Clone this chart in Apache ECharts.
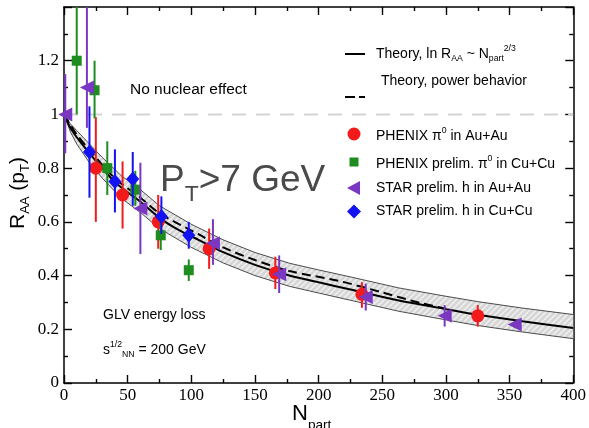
<!DOCTYPE html>
<html>
<head>
<meta charset="utf-8">
<script src="https://cdn.jsdelivr.net/npm/echarts@6/dist/echarts.min.js"></script>
<style>
  html, body { margin: 0; padding: 0; background: #fff; }
  #chart { width: 589px; height: 428px; }
</style>
</head>
<body>
<div id="chart"></div>
<script>
// ---- axis ranges ----
const xMin = 0, xMax = 400, xStep = 50;
const yMin = 0, yMax = 1.4, yStep = 0.2;

// ---- PHENIX pi0 in Au+Au ----
const phxAuN  = [25, 46, 74, 114, 166, 234, 325];
const phxAuR  = [0.80, 0.70, 0.60, 0.50, 0.41, 0.33, 0.25];
const phxAuHi = [0.99, 0.825, 0.70, 0.575, 0.47, 0.375, 0.29];
const phxAuLo = [0.60, 0.575, 0.50, 0.425, 0.35, 0.28, 0.21];

// ---- PHENIX prelim. pi0 in Cu+Cu ----
const phxCuN  = [10, 24, 34, 56, 76, 98];
const phxCuR  = [1.20, 1.09, 0.80, 0.72, 0.55, 0.42];
const phxCuHi = [1.60, 1.20, 0.90, 0.79, 0.605, 0.46];
const phxCuLo = [1.00, 0.985, 0.70, 0.66, 0.495, 0.38];

// ---- STAR prelim. h in Au+Au ----
const starAuN  = [1, 18, 60, 117, 169, 237, 299, 354];
const starAuR  = [1.00, 1.10, 0.65, 0.52, 0.405, 0.32, 0.25, 0.218];
const starAuHi = [1.15, 1.60, 0.82, 0.61, 0.475, 0.37, 0.29, 0.23];
const starAuLo = [0.855, 0.95, 0.48, 0.44, 0.335, 0.27, 0.21, 0.205];

// ---- STAR prelim. h in Cu+Cu ----
const starCuN  = [20, 40, 54, 76.5, 98];
const starCuR  = [0.86, 0.75, 0.76, 0.62, 0.55];
const starCuHi = [1.03, 0.87, 0.86, 0.695, 0.60];
const starCuLo = [0.69, 0.635, 0.66, 0.555, 0.50];

// ---- GLV theory: ln R_AA ~ N_part^(2/3) ----
const thN   = [0, 5, 10, 15, 20, 30, 40, 50, 60, 75, 90, 106, 125, 150, 177, 200, 225, 263, 300, 325, 360, 400];
const thR   = [1.0, 0.95, 0.915, 0.885, 0.855, 0.80, 0.748, 0.71, 0.675, 0.615, 0.57, 0.532, 0.487, 0.44, 0.40, 0.375, 0.348, 0.307, 0.275, 0.254, 0.23, 0.205];

// ---- theory, power behaviour ----
const powN  = [0, 10, 20, 40, 60, 75, 106, 125, 150, 177, 216, 250, 280, 300];
const powR  = [1.0, 0.925, 0.868, 0.762, 0.69, 0.632, 0.553, 0.505, 0.458, 0.417, 0.38, 0.337, 0.298, 0.277];

// ---- theory uncertainty band ----
const bandN  = [0, 5, 10, 20, 30, 45, 60, 75, 100, 125, 150, 177, 200, 225, 263, 300, 325, 360, 400];
const bandUp = [1.0, 0.965, 0.94, 0.89, 0.84, 0.772, 0.72, 0.66, 0.591, 0.533, 0.486, 0.446, 0.421, 0.395, 0.354, 0.323, 0.303, 0.279, 0.255];
const bandLo = [1.0, 0.935, 0.89, 0.82, 0.763, 0.688, 0.635, 0.575, 0.505, 0.447, 0.40, 0.36, 0.335, 0.308, 0.267, 0.235, 0.214, 0.19, 0.165];

// ---- no nuclear effect reference ----
const unityN = [0, 400];
const unityR = [1, 1];

const colRed = '#f21a1a', colGreen = '#1f8c1f', colPurple = '#7a38c2', colBlue = '#1212f2';
const sans = "'Liberation Sans', Arial, Helvetica, sans-serif";
const serif = "'Liberation Serif', 'Times New Roman', serif";

const pairs = (xs, ys) => xs.map((x, i) => [x, ys[i]]);
const triples = (xs, lo, hi) => xs.map((x, i) => [x, lo[i], hi[i]]);

// diagonal hatch used inside the theory band
function hatchPattern() {
  const c = document.createElement('canvas');
  c.width = c.height = 6;
  const g = c.getContext('2d');
  g.fillStyle = '#d6d6d6';
  g.fillRect(0, 0, 6, 6);
  g.strokeStyle = '#f2f2f2';
  g.lineWidth = 1.4;
  g.beginPath();
  g.moveTo(0, 6); g.lineTo(6, 0);
  g.moveTo(-1, 1); g.lineTo(1, -1);
  g.moveTo(5, 7); g.lineTo(7, 5);
  g.stroke();
  return c;
}

function errorBars(name, color, data, z) {
  return {
    name, type: 'custom', z, data,
    encode: { x: 0, y: [1, 2] },
    renderItem: (params, api) => {
      const x = api.value(0);
      const lo = Math.max(api.value(1), yMin);
      const hi = Math.min(api.value(2), yMax);
      const a = api.coord([x, lo]);
      const b = api.coord([x, hi]);
      return { type: 'line', shape: { x1: a[0], y1: a[1], x2: b[0], y2: b[1] },
               style: { stroke: color, lineWidth: 2 } };
    }
  };
}

function markers(name, color, symbol, size, data, z) {
  return { name, type: 'scatter', z, data, symbol, symbolSize: size,
           itemStyle: { color, opacity: 1 }, emphasis: { disabled: true } };
}

// text with sub/superscripts, laid out piece by piece
const measureCtx = document.createElement('canvas').getContext('2d');
function textRun(x, y, parts, size, family, color) {
  const out = [];
  let cx = x;
  parts.forEach(([t, kind]) => {
    let s = size, dy = 0;
    if (kind === 'sub') { s = size * 0.62; dy = size * 0.36; }
    else if (kind === 'sup') { s = size * 0.62; dy = -size * 0.42; }
    else if (kind === 'subD') { s = size * 0.62; dy = size * 0.52; }
    const font = s + 'px ' + family;
    out.push({ type: 'text', x: cx, y: y + dy, silent: true,
               style: { text: t, font, fill: color, align: 'left', verticalAlign: 'middle' } });
    measureCtx.font = font;
    cx += measureCtx.measureText(t).width;
  });
  return out;
}

const chart = echarts.init(document.getElementById('chart'), null, { renderer: 'canvas' });

const grid = { left: 64, right: 14, top: 7, bottom: 45 };
const tickStyle = { color: '#000', width: 1.4 };
function xAxisDef(pos, labels) {
  return {
    type: 'value', min: xMin, max: xMax, interval: xStep, position: pos,
    axisLine: { show: true, onZero: false, lineStyle: { color: '#000', width: 1.5 } },
    axisTick: { show: true, inside: true, length: 8, lineStyle: tickStyle },
    minorTick: { show: true, splitNumber: 2, length: 4, lineStyle: tickStyle },
    axisLabel: { show: labels, fontFamily: serif, fontSize: 17, color: '#000', margin: 4 },
    splitLine: { show: false }
  };
}
function yAxisDef(pos, labels) {
  return {
    type: 'value', min: yMin, max: yMax, interval: yStep, position: pos,
    axisLine: { show: true, onZero: false, lineStyle: { color: '#000', width: 1.5 } },
    axisTick: { show: true, inside: true, length: 8, lineStyle: tickStyle },
    minorTick: { show: true, splitNumber: 2, length: 4, lineStyle: tickStyle },
    axisLabel: { show: labels, fontFamily: serif, fontSize: 17, color: '#000', margin: 5,
                 formatter: v => (v > 1.3 ? '' : String(+v.toFixed(1))) },
    splitLine: { show: false }
  };
}

const hatch = { image: hatchPattern(), repeat: 'repeat' };

const series = [
  // shaded band between the upper and lower theory limits
  {
    name: 'band', type: 'custom', z: 1, data: [[bandN[0], bandUp[0]]],
    renderItem: (params, api) => {
      const pts = [];
      bandN.forEach((n, i) => pts.push(api.coord([n, bandUp[i]])));
      for (let i = bandN.length - 1; i >= 0; i--) pts.push(api.coord([bandN[i], bandLo[i]]));
      return { type: 'polygon', shape: { points: pts }, style: { fill: hatch, stroke: null } };
    }
  },
  { name: 'bandUp', type: 'line', z: 2, data: pairs(bandN, bandUp), showSymbol: false,
    lineStyle: { color: '#222', width: 0.8 }, silent: true },
  { name: 'bandLo', type: 'line', z: 2, data: pairs(bandN, bandLo), showSymbol: false,
    lineStyle: { color: '#222', width: 0.8 }, silent: true },
  { name: 'unity', type: 'line', z: 2, data: pairs(unityN, unityR), showSymbol: false,
    lineStyle: { color: '#d4d4d4', width: 2, type: [14, 10] }, silent: true },
  { name: 'theory', type: 'line', z: 3, data: pairs(thN, thR), showSymbol: false, smooth: 0.3,
    lineStyle: { color: '#000', width: 2 }, silent: true },
  { name: 'power', type: 'line', z: 3, data: pairs(powN, powR), showSymbol: false, smooth: 0.3,
    lineStyle: { color: '#000', width: 2, type: [9, 5] }, silent: true },

  errorBars('phxAuErr', colRed, triples(phxAuN, phxAuLo, phxAuHi), 4),
  markers('PHENIX Au+Au', colRed, 'circle', 13, pairs(phxAuN, phxAuR), 5),
  errorBars('phxCuErr', colGreen, triples(phxCuN, phxCuLo, phxCuHi), 6),
  markers('PHENIX Cu+Cu', colGreen, 'rect', 10, pairs(phxCuN, phxCuR), 7),
  errorBars('starAuErr', colPurple, triples(starAuN, starAuLo, starAuHi), 8),
  markers('STAR Au+Au', colPurple, 'path://M0,5 L10,0 L10,10 Z', [14, 14], pairs(starAuN, starAuR), 9),
  errorBars('starCuErr', colBlue, triples(starCuN, starCuLo, starCuHi), 10),
  markers('STAR Cu+Cu', colBlue, 'diamond', [13, 15], pairs(starCuN, starCuR), 11)
];

const black = '#000';
const graphics = [].concat(
  textRun(130, 89.5, [['No nuclear effect', '']], 15.5, sans, black),
  textRun(160, 181, [['P', ''], ['T', 'sub'], ['>7 GeV', '']], 37, sans, '#4a4a4a'),
  textRun(376, 54, [['Theory, ln R', ''], ['AA', 'sub'], [' ~ N', ''], ['part', 'sub'], ['2/3', 'sup']], 14, sans, black),
  textRun(381, 81.5, [['Theory, power behavior', '']], 14, sans, black),
  textRun(376, 136, [['PHENIX \u03c0', ''], ['0', 'sup'], [' in Au+Au', '']], 14, sans, black),
  textRun(376, 164, [['PHENIX prelim. \u03c0', ''], ['0', 'sup'], [' in Cu+Cu', '']], 14, sans, black),
  textRun(376, 188, [['STAR prelim. h in Au+Au', '']], 14, sans, black),
  textRun(376, 211, [['STAR prelim. h in Cu+Cu', '']], 14, sans, black),
  textRun(103, 315, [['GLV energy loss', '']], 14, sans, black),
  textRun(103, 350, [['s', ''], ['1/2', 'sup'], ['NN', 'sub'], [' = 200 GeV', '']], 14, sans, black),
  textRun(292, 414, [['N', ''], ['part', 'subD']], 22, sans, black),
  [
    { type: 'group', x: 18, y: 229, rotation: Math.PI / 2,
      children: textRun(0, 0, [['R', ''], ['AA', 'sub'], [' (p', ''], ['T', 'sub'], [')', '']], 21, sans, black) },
    // legend samples
    { type: 'line', shape: { x1: 345, y1: 54, x2: 365, y2: 54 }, style: { stroke: black, lineWidth: 2 } },
    { type: 'line', shape: { x1: 345, y1: 97, x2: 355, y2: 97 }, style: { stroke: black, lineWidth: 2 } },
    { type: 'line', shape: { x1: 359, y1: 97, x2: 365, y2: 97 }, style: { stroke: black, lineWidth: 2 } },
    { type: 'circle', shape: { cx: 354, cy: 134, r: 6.5 }, style: { fill: colRed } },
    { type: 'rect', shape: { x: 349.5, y: 157.5, width: 9, height: 9 }, style: { fill: colGreen } },
    { type: 'polygon', shape: { points: [[347, 188], [360, 181], [360, 195]] }, style: { fill: colPurple } },
    { type: 'polygon', shape: { points: [[354, 204.5], [361, 211.5], [354, 218.5], [347, 211.5]] }, style: { fill: colBlue } }
  ]
);

chart.setOption({
  animation: false,
  backgroundColor: '#fff',
  grid,
  xAxis: [xAxisDef('bottom', true), xAxisDef('top', false)],
  yAxis: [yAxisDef('left', true), yAxisDef('right', false)],
  series,
  graphic: graphics
});
</script>
</body>
</html>
